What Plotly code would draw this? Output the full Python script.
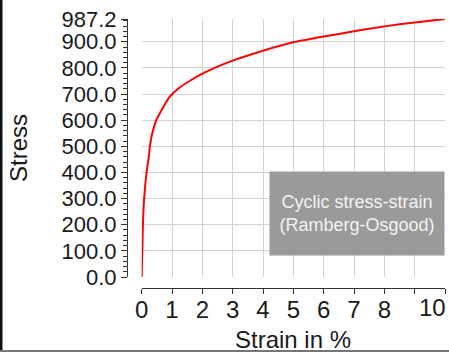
import plotly.graph_objects as go

# ---- data ----
strain = [0, 0.02, 0.04, 0.08, 0.16, 0.23, 0.27, 0.34, 0.48, 0.70, 0.90, 1.01, 1.25, 1.58, 1.97, 2.5, 3, 4, 5, 6, 7, 8, 9, 10]
stress = [0, 100, 200, 300, 400, 456, 500, 545, 600, 648, 686, 700, 725, 750, 776, 805, 828, 866, 898, 920, 940, 959, 974, 987.2]

y_tick_vals = [0, 100, 200, 300, 400, 500, 600, 700, 800, 900, 987.2]
y_tick_text = ["0.0", "100.0", "200.0", "300.0", "400.0", "500.0", "600.0", "700.0", "800.0", "900.0", "987.2"]
x_tick_vals = [0, 1, 2, 3, 4, 5, 6, 7, 8, 9, 10]
x_tick_text = ["0", "1", "2", "3", "4", "5", "6", "7", "8", "", "10"]

x_title = "Strain in %"
y_title = "Stress"
box_text = "Cyclic stress-strain<br>(Ramberg-Osgood)"

# ---- layout geometry ----
W, H = 449, 352
ML, MR, MT, MB = 127, 4, 19, 64
PW = W - ML - MR
PH = H - MT - MB
plot_left_px = 141.7
plot_bottom_px = 277
x_dom0 = (plot_left_px - ML) / PW
y_dom0 = ((H - MB) - plot_bottom_px) / PH

FONT = "Liberation Sans, Arial, sans-serif"
TXT = "#1a1a1a"
GRID = "#d2d2d2"

fig = go.Figure()
fig.add_trace(go.Scatter(
    x=strain, y=stress, mode="lines",
    line=dict(color="#ff0000", width=2, shape="spline", smoothing=0.5),
    showlegend=False, hoverinfo="skip",
))

# last x tick label ("10") is right aligned at the axis end in the reference
ticktext_axis = x_tick_text[:-1] + [""]

fig.update_layout(
    width=W, height=H,
    margin=dict(l=ML, r=MR, t=MT, b=MB, pad=0),
    paper_bgcolor="white", plot_bgcolor="white",
    font=dict(family=FONT, color=TXT),
    xaxis=dict(
        domain=[x_dom0, 1], range=[0, 10], anchor="free", position=0,
        tickmode="array", tickvals=x_tick_vals, ticktext=ticktext_axis,
        showline=True, linecolor="#333", linewidth=1,
        ticks="outside", ticklen=5, tickcolor="#333",
        ticklabelstandoff=-5,
        showgrid=True, gridcolor=GRID, gridwidth=1, zeroline=False,
        tickfont=dict(size=24, color=TXT, family=FONT),
    ),
    yaxis=dict(
        domain=[y_dom0, 1], range=[0, 987.2], anchor="free", position=0,
        tickmode="array", tickvals=y_tick_vals, ticktext=y_tick_text,
        showline=True, linecolor="#333", linewidth=1,
        ticks="outside", ticklen=6, tickcolor="#333",
        minor=dict(tickmode="linear", tick0=0, dtick=20, ticks="outside", ticklen=4, tickcolor="#333", showgrid=False),
        showgrid=True, gridcolor=GRID, gridwidth=1, zeroline=False,
        tickfont=dict(size=22, color=TXT, family=FONT),
    ),
)

annotations = [
    dict(text=x_tick_text[-1], x=x_tick_vals[-1], xref="x", xanchor="right", xshift=3,
         y=-4 / PH, yref="paper", yanchor="top", showarrow=False,
         font=dict(size=24, color=TXT, family=FONT)),
    dict(text=x_title, x=(293 - ML) / PW, xref="paper", xanchor="center",
         y=((H - MB) - 339) / PH, yref="paper", yanchor="middle", showarrow=False,
         font=dict(size=24, color=TXT, family=FONT)),
    dict(text=y_title, x=(18 - ML) / PW, xref="paper", xanchor="center",
         y=((H - MB) - 148) / PH, yref="paper", yanchor="middle", textangle=-90, showarrow=False,
         font=dict(size=24, color=TXT, family=FONT)),
    dict(text=box_text, x=1, xref="x domain", xanchor="right",
         y=(plot_bottom_px - 256) / (plot_bottom_px - MT), yref="y domain", yanchor="bottom",
         showarrow=False, bgcolor="#9a9a9a", width=170, height=79, borderpad=2,
         align="center", valign="middle",
         font=dict(size=18, color="#f2f2f2", family=FONT)),
]
fig.update_layout(annotations=annotations)

# frame lines at the picture edges
fig.add_shape(type="rect", xref="paper", yref="paper",
              x0=(0 - ML) / PW, x1=(2.5 - ML) / PW, y0=((H - MB) - H) / PH, y1=(H - MB) / PH + MT / PH,
              fillcolor="#111", line=dict(width=0), layer="above")
fig.add_shape(type="rect", xref="paper", yref="paper",
              x0=(0 - ML) / PW, x1=(W - ML) / PW, y0=((H - MB) - H) / PH, y1=((H - MB) - 350) / PH,
              fillcolor="#777", line=dict(width=0), layer="above")

fig.write_html("out.html", config={"displayModeBar": False},
               post_script="document.body.style.margin='0';document.body.style.overflow='hidden';")
